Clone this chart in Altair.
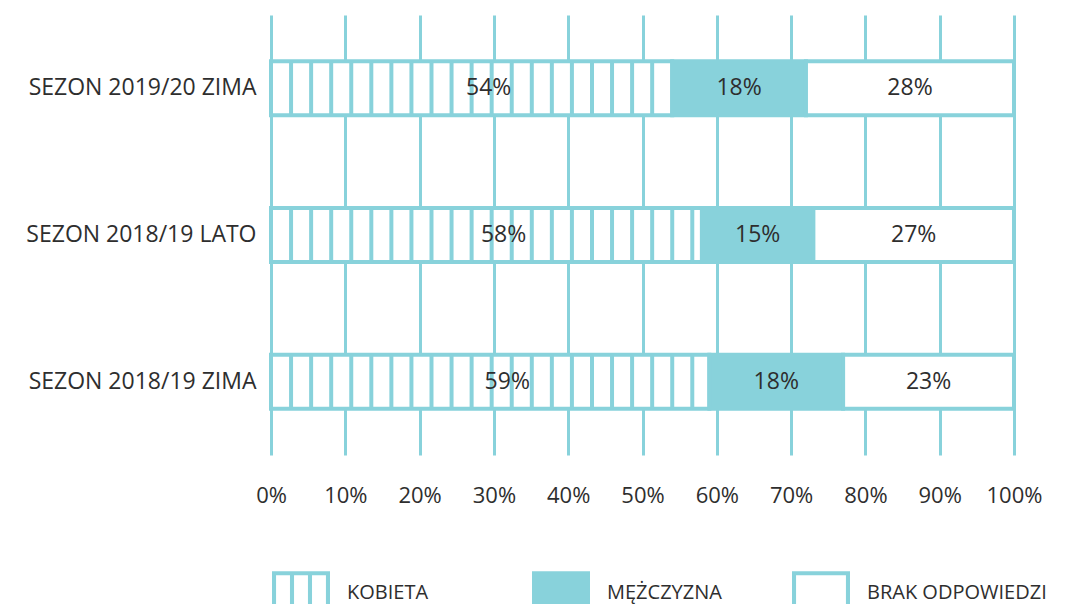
import altair as alt
import pandas as pd

seasons = ["SEZON 2019/20 ZIMA", "SEZON 2018/19 LATO", "SEZON 2018/19 ZIMA"]
categories = ["KOBIETA", "MĘŻCZYZNA", "BRAK ODPOWIEDZI"]
kobieta = [54, 58, 59]
mezczyzna = [18, 15, 18]
brak = [28, 27, 23]
x_ticks = [0, 10, 20, 30, 40, 50, 60, 70, 80, 90, 100]

TEAL = "#88D2DB"
TEXT = "#2e2e2e"
FONT = "Open Sans"

rows = []
for i, s in enumerate(seasons):
    for j, (c, v) in enumerate(zip(categories, [kobieta[i], mezczyzna[i], brak[i]])):
        rows.append({"season": s, "cat": c, "value": v, "order": j})
df = pd.DataFrame(rows)
legend_df = pd.DataFrame({"legend_cat": categories})

# legend icon shapes (unit coordinates)
shape_kobieta = (
    "M-1,-0.75H1V0.75H-1Z"
    "M-0.86,-0.61V0.61H-0.38V-0.61Z"
    "M-0.24,-0.61V0.61H0.24V-0.61Z"
    "M0.38,-0.61V0.61H0.86V-0.61Z"
)
shape_mez = "M-1,-0.75H1V0.75H-1Z"
shape_brak = "M-1,-0.75H1V0.75H-1ZM-0.86,-0.61V0.61H0.86V-0.61Z"

base = alt.Chart(df).transform_stack(
    stack="value", groupby=["season"], as_=["x0", "x1"], sort=[alt.SortField("order")]
).transform_calculate(mid="(datum.x0 + datum.x1) / 2")

xscale = alt.Scale(domain=[0, 100], nice=False, zero=True)
yenc = alt.Y(
    "season:N",
    sort=seasons,
    scale=alt.Scale(paddingInner=0, paddingOuter=0),
    axis=alt.Axis(
        title=None, domain=False, ticks=False, grid=False,
        labelFont=FONT, labelFontSize=23, labelColor=TEXT,
        labelPadding=15, labelAlign="right", labelLimit=400,
    ),
)

bars = base.mark_bar(size=54, stroke=TEAL, strokeWidth=4).encode(
    x=alt.X(
        "x0:Q", scale=xscale,
        axis=alt.Axis(
            title=None, values=x_ticks, labelExpr="datum.value + '%'",
            domain=False, ticks=False, grid=True, gridColor=TEAL, gridWidth=3,
            labelFont=FONT, labelFontSize=22, labelColor=TEXT, labelPadding=30,
            labelFlush=False,
        ),
    ),
    x2="x1:Q",
    y=yenc,
    fill=alt.Fill(
        "cat:N",
        scale=alt.Scale(domain=categories, range=["#ffffff", TEAL, "#ffffff"]),
        legend=None,
    ),
)

stripes = base.transform_filter(alt.datum.cat == "KOBIETA").transform_calculate(
    stripe="sequence(0, datum.x1, 2.7)"
).transform_flatten(["stripe"]).mark_tick(
    orient="vertical", thickness=4, size=54, color=TEAL, opacity=1
).encode(
    x=alt.X("stripe:Q", scale=xscale),
    y=alt.Y("season:N", sort=seasons),
)

labels = base.transform_calculate(
    dx="datum.cat == 'KOBIETA' ? 2.3 : 0"
).transform_calculate(
    lx="datum.mid + datum.dx", txt="datum.value + '%'"
).mark_text(
    font=FONT, fontSize=23, color=TEXT, baseline="middle", align="center"
).encode(
    x=alt.X("lx:Q", scale=xscale),
    y=alt.Y("season:N", sort=seasons),
    text="txt:N",
)

main = alt.layer(bars, stripes, labels)

# custom legend drawn from the category list
leg_x = alt.X(
    "legend_cat:N",
    sort=categories,
    scale=alt.Scale(type="point", domain=categories, range=[30, 550], padding=0),
    axis=None,
)
leg_icons = alt.Chart(legend_df).mark_point(
    filled=True, color=TEAL, size=3364, opacity=1, strokeWidth=0
).encode(
    x=leg_x,
    y=alt.value(578),
    shape=alt.Shape(
        "legend_cat:N",
        scale=alt.Scale(domain=categories, range=[shape_kobieta, shape_mez, shape_brak]),
        legend=None,
    ),
)
leg_text = alt.Chart(legend_df).mark_text(
    font=FONT, fontSize=20, color=TEXT, align="left", baseline="middle", dx=46
).encode(
    x=leg_x,
    y=alt.value(578),
    text="legend_cat:N",
)
legend_layer = alt.layer(leg_icons, leg_text)

chart = alt.layer(main, legend_layer).resolve_scale(x="independent").properties(
    width=743, height=440,
    autosize=alt.AutoSizeParams(type="none"),
    padding={"left": 263, "top": 7, "right": 50, "bottom": 149},
).configure_view(stroke=None)

chart.save("out.html", embed_options={"renderer": "svg", "actions": False})
